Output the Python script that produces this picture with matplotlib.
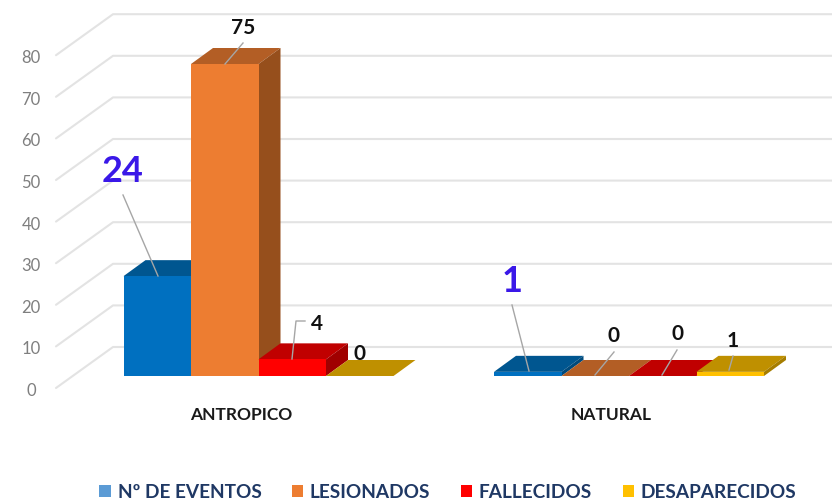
import matplotlib
matplotlib.use("Agg")
import matplotlib.pyplot as plt
from matplotlib.patches import Patch

plt.rcParams['font.family'] = ['Lato', 'DejaVu Sans']

categories = ["ANTROPICO", "NATURAL"]
series_names = ["Nº DE EVENTOS", "LESIONADOS", "FALLECIDOS", "DESAPARECIDOS"]
eventos = [24, 1]
lesionados = [75, 0]
fallecidos = [4, 0]
desaparecidos = [0, 1]
y_ticks = [0, 10, 20, 30, 40, 50, 60, 70, 80]

# colours for each series: front, top, side
front_cols = ["#0070C0", "#ED7D31", "#FF0000", "#FFC000"]
top_cols = ["#005690", "#B35E25", "#C00000", "#BF9000"]
side_cols = ["#004A7C", "#964F1C", "#A00000", "#A67D00"]
legend_cols = ["#5B9BD5", "#ED7D31", "#FF0000", "#FFC000"]

W, H = 832, 501
PX = 4.16       # pixels per unit of value
BASE = 376      # pixel row of value 0 at the bar front
DX, DY = 22, 16 / PX   # depth of a bar
BAR_W = 67.5
group_x = [123.5, 494]
cat_x = [241, 611]

fig = plt.figure(figsize=(W / 100, H / 100), dpi=100)
ax = fig.add_axes([0, 0, 1, 1])
ax.set_xlim(0, W)
ax.set_ylim(-(H - BASE) / PX, BASE / PX)
ax.axis("off")


def py(row):
    # pixel row to value axis
    return (BASE - row) / PX


# wall and floor gridlines
for t in y_ticks:
    ax.plot([56, 113, W], [t - 12 / PX, t + 29 / PX, t + 29 / PX], color="#E3E3E3", lw=1.5, zorder=1, solid_capstyle="round")
    ax.text(31, t - 15 / PX, str(t), color="#7F7F7F", fontsize=12, ha="center", va="center")

# bars, painted left to right so nearer faces overlap
all_series = [eventos, lesionados, fallecidos, desaparecidos]
for g, gx in enumerate(group_x):
    for s, vals in enumerate(all_series):
        v = vals[g]
        x0 = gx + s * BAR_W
        x1 = x0 + BAR_W
        z = 2 + g + s * 0.1
        ax.fill([x0, x1, x1 + DX, x0 + DX], [v, v, v + DY, v + DY], color=top_cols[s], lw=0, zorder=z)
        if v > 0:
            ax.fill([x1, x1 + DX, x1 + DX, x1], [0, DY, v + DY, v], color=side_cols[s], lw=0, zorder=z)
            ax.bar(x0, v, width=BAR_W, align="edge", color=front_cols[s], lw=0, zorder=z)
    ax.text(cat_x[g], py(415), categories[g], color="#1A1A1A", fontsize=12.5, fontweight="bold", ha="center", va="center", zorder=6)

# data labels: (group, series, text centre x, y px, leader start y, elbow x, colour, size)
labels = [
    (0, 0, 123, 172, 195, None, "#3A18E8", 26),
    (0, 1, 243, 28, 43, None, "#111111", 15),
    (0, 2, 317, 324, 321, 296, "#111111", 15),
    (0, 3, 359, 354, None, None, "#111111", 15),
    (1, 0, 512, 282, 305, None, "#3A18E8", 26),
    (1, 1, 614, 336, 352, None, "#111111", 15),
    (1, 2, 677, 334, 350, None, "#111111", 15),
    (1, 3, 733, 341, 356, None, "#111111", 15),
]
leader_ends = {(0, 0): (158, 276), (0, 1): (225, 64), (0, 2): (292, 359),
               (1, 0): (529, 371), (1, 1): (595, 375), (1, 2): (662, 375), (1, 3): (729, 370)}
for g, s, tx, ty, ly, elbow, col, size in labels:
    ax.text(tx, py(ty), str(all_series[s][g]), color=col, fontsize=size, fontweight="bold", ha="center", va="center", zorder=8)
    if ly is None:
        continue
    ex, ey = leader_ends[(g, s)]
    if elbow is not None:
        ax.plot([305, elbow, ex], [py(ly), py(ly), py(ey)], color="#A6A6A6", lw=1, zorder=7)
    else:
        ax.plot([tx, ex], [py(ly), py(ey)], color="#A6A6A6", lw=1, zorder=7)

handles = [Patch(color=c, lw=0) for c in legend_cols]
leg = fig.legend(handles, series_names, loc="center", bbox_to_anchor=(448 / W, 1 - 492 / H), ncol=4, frameon=False,
                 handlelength=0.6, handleheight=0.6, handletextpad=0.35, columnspacing=1.6, prop={"weight": "bold", "size": 13.7})
for t in leg.get_texts():
    t.set_color("#1F3864")

fig.savefig("out.png", dpi=100, facecolor="white")
